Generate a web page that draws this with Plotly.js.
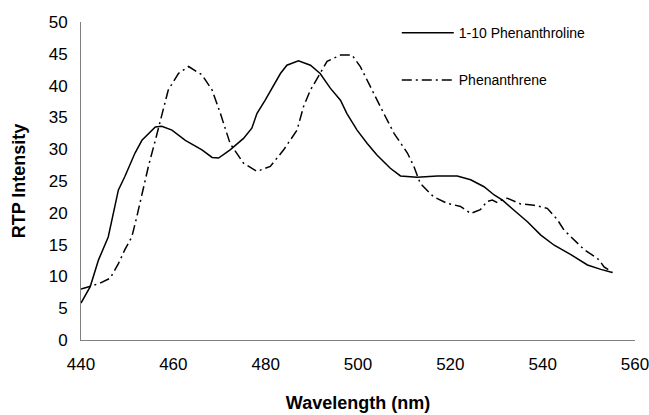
<!DOCTYPE html>
<html>
<head>
<meta charset="utf-8">
<script src="https://cdn.plot.ly/plotly-3.0.1.min.js"></script>
<style>html,body{margin:0;padding:0;background:#fff;}#chart{width:649px;height:415px;}</style>
</head>
<body>
<div id="chart"></div>
<script>
// 1-10 Phenanthroline (solid)
const phenanthrolineWl = [440,442,443.8,445.9,448.1,449.5,451.7,453.2,456.1,457.5,459.7,462.6,466.2,468.4,469.8,472.3,475.2,477,478.1,479.9,483.2,484.6,487.1,489.7,491.8,494,496.2,497.6,499.8,502,504.1,507,509.2,512.8,517.2,521.5,524.4,527.3,529.5,531.3,533.8,536.7,539.6,542.5,546.2,549.7,552.6,555.1];
const phenanthrolineVal = [5.8,8.4,12.6,16.2,23.6,25.7,29.4,31.4,33.5,33.6,33.0,31.4,29.9,28.7,28.6,29.9,31.7,33.3,35.6,37.7,41.9,43.2,43.9,43.2,41.9,39.6,37.7,35.6,33.0,30.9,29.1,27.0,25.8,25.6,25.8,25.8,25.2,24.1,22.8,22.0,20.4,18.6,16.5,14.9,13.4,11.8,11.1,10.6];
// Phenanthrene (dash-dot)
const phenanthreneWl = [440,442,444,446.3,448.1,449.5,451,452.1,453.2,454.6,456.1,457.1,457.9,458.9,461.1,463.3,466.2,467.6,468.4,470.2,472.3,475.2,478.1,481,483.9,486.8,488.2,489.7,491.8,493.3,496.2,498.7,500.5,502,503.4,505.6,507.8,510.7,512.1,513.5,516.4,519.3,522.2,524.4,526.5,528,529.1,530.2,531.3,532.3,535.2,538.1,541,543.2,544.6,546.8,549,551.1,552.2,553.3,555.1];
const phenanthreneVal = [8.0,8.5,8.9,9.7,12.0,14.2,16.2,19.4,23.1,27.3,31.4,34.1,36.7,39.3,41.9,43.0,41.7,40.3,39.3,35.6,30.9,27.8,26.5,27.3,29.9,33.0,36.7,39.3,41.9,43.8,44.8,44.8,43.0,40.9,38.8,35.6,32.5,29.4,27.3,24.6,22.5,21.5,21.0,19.9,20.5,21.8,22.0,21.6,22.1,22.3,21.4,21.2,20.7,18.9,17.3,15.7,14.2,13.2,12.6,11.5,10.6];
const xTicks = [440,460,480,500,520,540,560];
const yTicks = [0,5,10,15,20,25,30,35,40,45,50];

const traces = [
  {x: phenanthrolineWl, y: phenanthrolineVal, type: 'scatter', mode: 'lines', name: '1-10 Phenanthroline', legendgroup: 'a',
   line: {color: '#000', width: 1.5}},
  {x: phenanthreneWl, y: phenanthreneVal, type: 'scatter', mode: 'lines', name: 'Phenanthrene', legendgroup: 'b',
   line: {color: '#000', width: 1.5, dash: '10px,4px,2px,4px'}}
];
const layout = {
  width: 649, height: 415,
  margin: {l: 81, r: 14, t: 22, b: 75},
  paper_bgcolor: '#fff', plot_bgcolor: '#fff',
  font: {family: 'Liberation Sans, Arial, sans-serif', color: '#000'},
  showlegend: true,
  legend: {x: 0.570, y: 1.015, xanchor: 'left', yanchor: 'top', bgcolor: 'rgba(0,0,0,0)',
           font: {size: 14, color: '#000'}, tracegroupgap: 26, itemwidth: 52},
  xaxis: {range: [440, 560], tickvals: xTicks, ticktext: xTicks.map(String), showgrid: false, zeroline: false,
          showline: true, linecolor: '#808080', linewidth: 1, ticks: '', tickfont: {size: 17}, ticklabelstandoff: 9,
          ticklabeloverflow: 'allow',
          title: {text: 'Wavelength (nm)', font: {size: 18, weight: 'bold'}, standoff: 22}},
  yaxis: {range: [0, 50], tickvals: yTicks, ticktext: yTicks.map(String), showgrid: false, zeroline: false,
          showline: true, linecolor: '#808080', linewidth: 1, ticks: '', tickfont: {size: 17}, ticklabelstandoff: 9,
          ticklabeloverflow: 'allow',
          title: {text: 'RTP Intensity', font: {size: 18, weight: 'bold'}, standoff: 18}}
};
Plotly.newPlot('chart', traces, layout, {staticPlot: true, displayModeBar: false});
</script>
</body>
</html>
